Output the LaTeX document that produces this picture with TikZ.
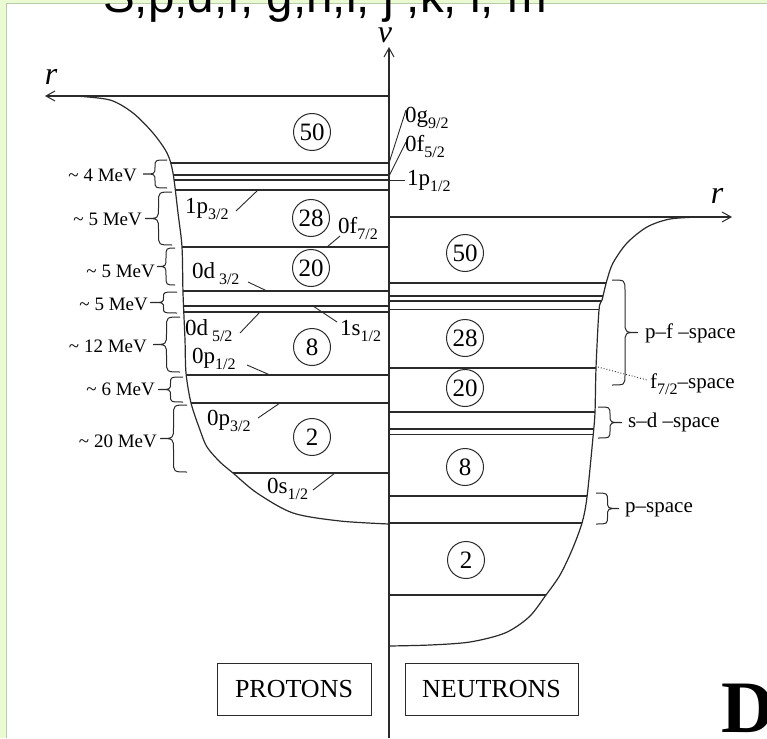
\documentclass[tikz,border=0pt]{standalone}
\usepackage{fontspec}
\setmainfont{Liberation Serif}
\newfontfamily\sansf{Liberation Sans}
\usetikzlibrary{arrows.meta}
\definecolor{framegreen}{HTML}{EAFBD3}
\definecolor{frameline}{HTML}{B9CCA8}
\definecolor{ink}{HTML}{2A2A2A}
\newcommand\lsub[1]{\raisebox{-6pt}{\fontsize{16}{16}\selectfont #1}}
\newcommand\LBr[4]{%
  \pgfmathsetmacro\bxm{(#1+#2)/2}%
  \pgfmathsetmacro\bym{(#3+#4)/2}%
  \pgfmathsetmacro\br{min((#4-#3)/4,11)}%
  \draw[brc] (#1,#3) .. controls (\bxm,#3) .. (\bxm,#3+\br) -- (\bxm,\bym-\br) .. controls (\bxm,\bym) .. (#2,\bym) .. controls (\bxm,\bym) .. (\bxm,\bym+\br) -- (\bxm,#4-\br) .. controls (\bxm,#4) .. (#1,#4);%
}
\begin{document}
\begin{tikzpicture}[x=1pt,y=-1pt,
  lvl/.style={line width=1.3pt, draw=ink},
  axisline/.style={line width=1.2pt, draw=ink, -{Straight Barb[length=9pt,width=10pt,line width=1pt]}},
  pot/.style={line width=1.2pt, draw=ink},
  leader/.style={line width=0.9pt, draw=ink},
  magic/.style={circle, draw=ink, line width=1pt, minimum size=37pt, inner sep=0pt, font=\fontsize{25}{25}\selectfont},
  lab/.style={anchor=base west, inner sep=0pt, font=\fontsize{23}{23}\selectfont},
  mev/.style={anchor=base east, inner sep=0pt, font=\fontsize{19}{19}\selectfont},
  spc/.style={anchor=base west, inner sep=0pt, font=\fontsize{21}{21}\selectfont},
  brc/.style={line width=1pt, draw=ink},
  boxlab/.style={draw=ink, line width=1pt, minimum height=52pt, inner sep=0pt, font=\fontsize{26}{26}\selectfont},
  axlab/.style={inner sep=0pt, font=\fontsize{32}{32}\selectfont\itshape}
]
\useasboundingbox (0,0) rectangle (767,738);
\fill[white] (0,0) rectangle (767,738);
\fill[framegreen] (0,0) rectangle (767,3.5);
\fill[framegreen] (0,0) rectangle (6.5,738);
\draw[frameline, line width=1pt] (6.5,738) -- (6.5,3.5) -- (767,3.5);

\node[anchor=base west, inner sep=0pt, font=\sansf\fontsize{47.5}{47.5}\selectfont] (title) at (103,13) {S,p,d,f, g,h,i, j ,k, l, m};

% proton levels
\begin{scope}
  \clip plot[smooth,tension=0.5] coordinates {(75,96) (110,100) (133,113) (153,133) (167,153) (173,173) (178,213) (182,247) (183,293) (185,340) (186,373) (191,403) (200,430) (207,447) (220,462) (233,473) (257,493) (293,513) (340,521) (389,524)} -- (389,96) -- cycle;
  \foreach \y in {163,175,180,190,247,291,306,312,375,403,473} \draw[lvl] (60,\y) -- (389,\y);
\end{scope}
\draw[pot] plot[smooth,tension=0.5] coordinates {(75,96) (110,100) (133,113) (153,133) (167,153) (173,173) (178,213) (182,247) (183,293) (185,340) (186,373) (191,403) (200,430) (207,447) (220,462) (233,473) (257,493) (293,513) (340,521) (389,524)};

% neutron levels
\begin{scope}
  \clip plot[smooth,tension=0.5] coordinates {(700,217) (670,219) (647,227) (627,243) (613,263) (607,280) (602,300) (599,310) (596,368) (595,412) (593,437) (587,497) (582,523) (572,550) (560,575) (546,595) (529,617) (505,633) (470,642) (430,645) (389,646)} -- (389,217) -- cycle;
  \foreach \y in {283,296,301,309.5,368,412,429,434.5,496,523,595} \draw[lvl] (389,\y) -- (720,\y);
\end{scope}
\draw[pot] plot[smooth,tension=0.5] coordinates {(700,217) (670,219) (647,227) (627,243) (613,263) (607,280) (602,300) (599,310) (596,368) (595,412) (593,437) (587,497) (582,523) (572,550) (560,575) (546,595) (529,617) (505,633) (470,642) (430,645) (389,646)};

% axes
\coordinate (axbot) at (389,738);
\coordinate (axtop) at (389,47);
\coordinate (lorig) at (389,96);
\coordinate (ltip) at (45,96);
\coordinate (rorig) at (389,217);
\coordinate (rtip) at (732,217);
\draw[axisline] (axbot) -- (axtop);
\draw[axisline] (lorig) -- (ltip);
\draw[axisline] (rorig) -- (rtip);
\node[axlab] (nu) at (385,35) {ν};
\node[axlab] (rl) at (51,77) {r};
\node[axlab] (rr) at (717,196) {r};

% magic numbers
\node[magic] (p50) at (312,132) {50};
\node[magic] (p28) at (311,218) {28};
\node[magic] (p20) at (311,268) {20};
\node[magic] (p8) at (312,347) {8};
\node[magic] (p2) at (312,437) {2};
\node[magic] (n50) at (465,253) {50};
\node[magic] (n28) at (465,338) {28};
\node[magic] (n20) at (465,388) {20};
\node[magic] (n8) at (465,467) {8};
\node[magic] (n2) at (466,560) {2};

% level labels
\node[lab] (g92) at (405,123) {0g\lsub{9/2}};
\node[lab] (f52) at (405,151) {0f\lsub{5/2}};
\node[lab] (p12) at (407,185) {1p\lsub{1/2}};
\node[lab] (p32a) at (185,213) {1p\lsub{3/2}};
\node[lab] (f72) at (338,233) {0f\lsub{7/2}};
\node[lab] (d32) at (192,278) {0d\,\lsub{3/2}};
\node[lab] (d52) at (185,335) {0d\,\lsub{5/2}};
\node[lab] (s12) at (340,335) {1s\lsub{1/2}};
\node[lab] (p12b) at (192,363) {0p\lsub{1/2}};
\node[lab] (p32b) at (207,425) {0p\lsub{3/2}};
\node[lab] (s12b) at (267,493) {0s\lsub{1/2}};

\draw[leader] (389,163) -- (406,110);
\draw[leader] (389,176) -- (406,142);
\draw[leader] (389,180) -- (405,180);
\draw[leader] (236,211) -- (258,190);
\draw[leader] (327,247) -- (340,236);
\draw[leader] (248,282) -- (267,291);
\draw[leader] (240,333) -- (260,312);
\draw[leader] (313,306) -- (337,322);
\draw[leader] (247,365) -- (270,375);
\draw[leader] (258,418) -- (280,403);
\draw[leader] (313,490) -- (335,473);

% MeV labels and braces
\node[mev] (m1) at (137,181) {\textasciitilde\ 4 MeV};
\node[mev] (m2) at (142,225) {\textasciitilde\ 5 MeV};
\node[mev] (m3) at (155,277) {\textasciitilde\ 5 MeV};
\node[mev] (m4) at (148,310) {\textasciitilde\ 5 MeV};
\node[mev] (m5) at (147,352) {\textasciitilde\ 12 MeV};
\node[mev] (m6) at (155,395) {\textasciitilde\ 6 MeV};
\node[mev] (m7) at (157,447) {\textasciitilde\ 20 MeV};
\LBr{167}{143}{160}{188}
\LBr{172}{145}{192}{245}
\LBr{175}{157}{248}{285}
\LBr{177}{150}{292}{313}
\LBr{180}{153}{317}{372}
\LBr{183}{158}{377}{402}
\LBr{187}{160}{405}{472}

% valence spaces
\LBr{612}{638}{280}{385}
\LBr{598}{622}{407}{438}
\LBr{596}{619}{493}{524}
\node[spc] (pf) at (645,338) {p–f –space};
\node[spc] (f7) at (650,388) {f\lsub{7/2}–space};
\node[spc] (sd) at (628,427) {s–d –space};
\node[spc] (ps) at (625,512) {p–space};
\draw[leader, dotted] (598,367) -- (647,380);

% boxes
\node[boxlab, minimum width=154pt] (prot) at (294,689) {PROTONS};
\node[boxlab, minimum width=173pt] (neut) at (491.5,689) {NEUTRONS};

\node[anchor=base west, inner sep=0pt, font=\fontsize{74}{74}\selectfont\bfseries] (D) at (721,732) {D};
\end{tikzpicture}
\end{document}
